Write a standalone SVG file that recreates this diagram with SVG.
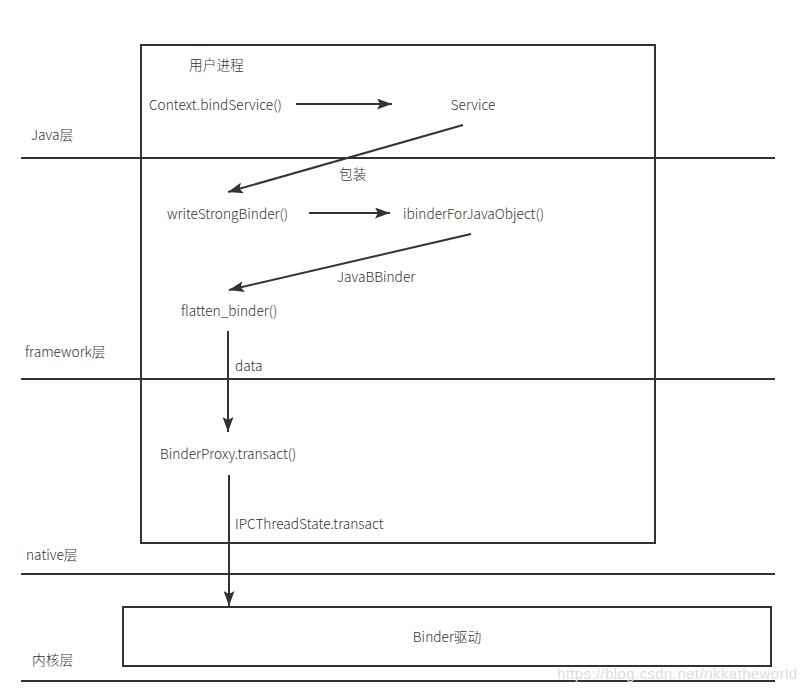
<svg xmlns="http://www.w3.org/2000/svg" width="807" height="695" viewBox="0 0 807 695">
<defs>
<marker id="ah" markerWidth="15" markerHeight="11" refX="15" refY="5.5" orient="auto" markerUnits="userSpaceOnUse">
<path d="M0,0 L15,5.5 L0,11 L3,5.5 Z" fill="#333"/>
</marker>
<style>
.t{font-family:"Noto Sans CJK SC","Noto Sans",sans-serif;font-size:13.7px;font-weight:300;fill:#333}
.m{text-anchor:middle}
.ln{stroke:#333;stroke-width:2;fill:none}
.bx{stroke:#333;stroke-width:2;fill:#fff}
.c{stroke:#333;stroke-width:2;fill:none;marker-end:url(#ah)}
</style>
</defs>
<rect width="807" height="695" fill="#fff"/>
<g id="process-box"><rect class="bx" x="141" y="45" width="514" height="498"/></g>
<g id="layers">
<line class="ln" x1="21" y1="158" x2="775" y2="158"/>
<line class="ln" x1="21" y1="379" x2="775" y2="379"/>
<line class="ln" x1="21" y1="574" x2="775" y2="574"/>
<line class="ln" x1="21" y1="681" x2="775" y2="681"/>
<text class="t" x="31" y="140">Java层</text>
<text class="t" x="25" y="357">framework层</text>
<text class="t" x="26" y="560">native层</text>
<text class="t" x="32" y="665">内核层</text>
</g>
<g id="binder-driver"><rect class="bx" x="123" y="607" width="648" height="59"/><text class="t m" x="447" y="642">Binder驱动</text></g>
<g id="title"><text class="t" x="189" y="70">用户进程</text></g>
<g id="bindService"><text class="t" x="149" y="110">Context.bindService()</text></g>
<g id="service"><text class="t m" x="473" y="110">Service</text></g>
<g id="writeStrongBinder"><text class="t" x="167" y="219">writeStrongBinder()</text></g>
<g id="ibinderForJavaObject"><text class="t" x="403" y="219">ibinderForJavaObject()</text></g>
<g id="flatten_binder"><text class="t" x="181" y="316">flatten_binder()</text></g>
<g id="binderProxy"><text class="t" x="160" y="459">BinderProxy.transact()</text></g>
<g id="connectors">
<line class="c" x1="296" y1="104" x2="392" y2="104"/>
<line class="c" x1="463" y1="125" x2="228" y2="192"/>
<line class="c" x1="309" y1="213" x2="390" y2="213"/>
<line class="c" x1="471" y1="234" x2="229" y2="290"/>
<line class="c" x1="228" y1="331" x2="228" y2="432"/>
<line class="c" x1="229" y1="475" x2="229" y2="606"/>
<text class="t" x="339" y="179">包装</text>
<text class="t" x="337" y="282">JavaBBinder</text>
<text class="t" x="235" y="371">data</text>
<text class="t" x="235" y="529">IPCThreadState.transact</text>
</g>
<text x="557" y="679" textLength="240" style="font-family:'Liberation Sans',sans-serif;font-size:15px;fill:#ddd">https://blog.csdn.net/rikkatheworld</text>
</svg>
